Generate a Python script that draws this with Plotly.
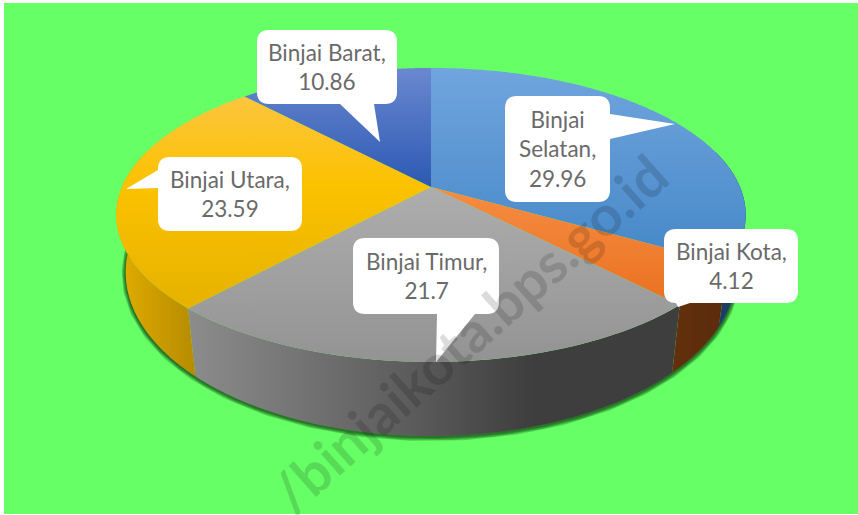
import numpy as np
import plotly.graph_objects as go

categories = ["Binjai Selatan", "Binjai Kota", "Binjai Timur", "Binjai Utara", "Binjai Barat"]
values = [29.96, 4.12, 21.7, 23.59, 10.86]
label_lines = [["Binjai", "Selatan,", "29.96"], ["Binjai Kota,", "4.12"], ["Binjai Timur,", "21.7"],
               ["Binjai Utara,", "23.59"], ["Binjai Barat,", "10.86"]]
top_colors = [[[0, "#70a5de"], [1, "#3f83c4"]], [[0, "#f58c42"], [1, "#ea6f1f"]],
              [[0, "#adadad"], [1, "#939393"]],
              [[0, "#fdc540"], [0.42, "#fbc200"], [1, "#e6b200"]], [[0, "#6a88d0"], [1, "#2c59b3"]]]
top_spans = [(68, 290), (190, 310), (190, 362), (95, 310), (68, 187)]
side_stops = [[[0, "#1d3d66"], [1, "#1d3d66"]], [[0, "#64300c"], [1, "#5a2b0c"]],
              [[0, "#8c8c8c"], [0.45, "#5c5c5c"], [0.7, "#3e3e3e"], [1, "#3e3e3e"]],
              [[0, "#e3ae00"], [1, "#b58b00"]], [[0, "#1d3d66"], [1, "#1d3d66"]]]
BACKGROUND = "#66ff66"
CX, CY, A, B, P = 431.0, 187.0, 309.0, 141.7, 0.19


def top_xy(deg):
    t = np.radians(deg)
    w = 1 + P * np.cos(t)
    return CX + A * np.sin(t) / w, CY - B * np.cos(t) / w


def low_xy(deg):
    x, y = top_xy(deg)
    return CX + (x - CX) * 0.97, 241 + (y - CY) * 1.115


fig = go.Figure()
edges = np.concatenate([[0], np.cumsum(values)]) / sum(values) * 360

# soft shadow along the lower rim
ring = np.linspace(92, 268, 240)
sx, sy = low_xy(ring)
for width in (8, 6, 4, 2):
    fig.add_trace(go.Scatter(x=sx, y=sy + 1, mode="lines", hoverinfo="skip",
                             line=dict(color="rgba(0,40,0,0.22)", width=width)))

# side walls
for i in range(len(values)):
    a, b = max(edges[i], 75), min(edges[i + 1], 285)
    if b <= a:
        continue
    th = np.linspace(a, b, 120)
    tx, ty = top_xy(th)
    lx, ly = low_xy(th)
    x = np.concatenate([tx, lx[::-1]])
    y = np.concatenate([ty, ly[::-1]])
    fig.add_trace(go.Scatter(x=x, y=y, mode="none", fill="toself", hoverinfo="skip",
                             fillgradient=dict(type="horizontal", colorscale=side_stops[i],
                                               start=float(x.min()), stop=float(x.max()))))

# top faces
for i in range(len(values)):
    th = np.linspace(edges[i], edges[i + 1], 160)
    tx, ty = top_xy(th)
    x = np.concatenate([[CX], tx, [CX]])
    y = np.concatenate([[CY], ty, [CY]])
    fig.add_trace(go.Scatter(x=x, y=y, mode="none", fill="toself", name=categories[i],
                             hoverinfo="skip",
                             fillgradient=dict(type="vertical", colorscale=top_colors[i],
                                               start=top_spans[i][0], stop=top_spans[i][1])))


def callout(x0, y0, x1, y1, tail=None, r=12):
    """Rounded box path; tail=(side, a, b, tipx, tipy)."""
    s = tail[0] if tail else ""
    p = f"M{x0+r},{y0} "
    p += f"L{x1-r},{y0} Q{x1},{y0} {x1},{y0+r} "
    if s == "right":
        p += f"L{x1},{tail[1]} L{tail[3]},{tail[4]} L{x1},{tail[2]} "
    p += f"L{x1},{y1-r} Q{x1},{y1} {x1-r},{y1} "
    if s == "bottom":
        p += f"L{tail[2]},{y1} L{tail[3]},{tail[4]} L{tail[1]},{y1} "
    p += f"L{x0+r},{y1} Q{x0},{y1} {x0},{y1-r} "
    if s == "left":
        p += f"L{x0},{tail[2]} L{tail[3]},{tail[4]} L{x0},{tail[1]} "
    p += f"L{x0},{y0+r} Q{x0},{y0} {x0+r},{y0} Z"
    return p


boxes = [(505, 96, 610, 202, ("right", 114, 139, 675, 124)),
         (664, 229, 798, 303, ("bottom", 676, 690, 678, 307)),
         (353, 238, 499, 314, ("bottom", 437, 475, 436, 362)),
         (158, 157, 302, 231, ("left", 170, 188, 126, 189)),
         (257, 30, 397, 104, ("bottom", 340, 374, 380, 142))]

shapes = [dict(type="rect", xref="x", yref="y", x0=4, x1=858, y0=3, y1=514,
               fillcolor=BACKGROUND, line_width=0, layer="below")]
annotations = []
for (x0, y0, x1, y1, tail), lines in zip(boxes, label_lines):
    shapes.append(dict(type="path", xref="x", yref="y", path=callout(x0, y0, x1, y1, tail),
                       fillcolor="white", line_width=0, layer="above"))
    annotations.append(dict(x=(x0 + x1) / 2, y=(y0 + y1) / 2, xref="x", yref="y", showarrow=False,
                            text="<br>".join(lines), align="center",
                            font=dict(family="Lato", size=22.5, color="#6a6a6a")))

annotations.append(dict(x=468, y=333, xref="x", yref="y", showarrow=False,
                        text="<b>/binjaikota.bps.go.id</b>", textangle=-41.5,
                        font=dict(family="Lato", size=56, color="rgba(0,0,0,0.14)")))

fig.update_layout(width=858, height=515, margin=dict(l=0, r=0, t=0, b=0), showlegend=False,
                  paper_bgcolor="white", plot_bgcolor="rgba(0,0,0,0)",
                  xaxis=dict(range=[0, 858], visible=False, fixedrange=True),
                  yaxis=dict(range=[515, 0], visible=False, fixedrange=True),
                  shapes=shapes, annotations=annotations)
fig.write_html("out.html", config=dict(displayModeBar=False),
               post_script="document.body.style.margin='0';")
